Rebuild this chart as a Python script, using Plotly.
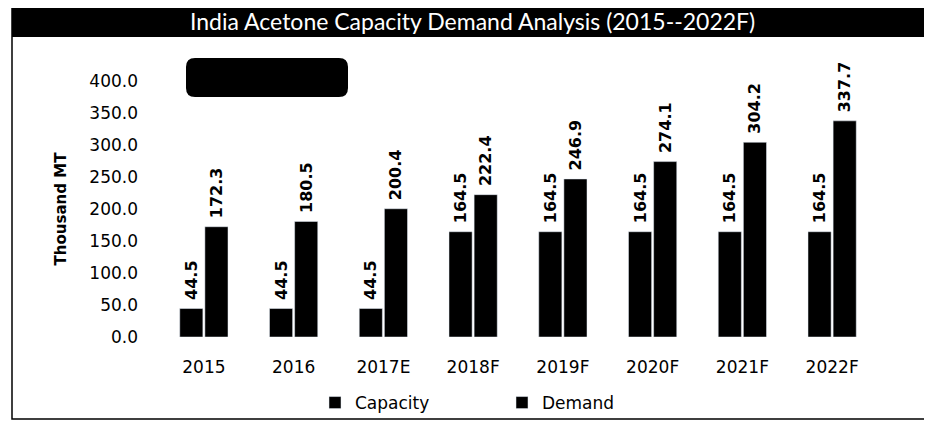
import plotly.graph_objects as go

categories = ["2015", "2016", "2017E", "2018F", "2019F", "2020F", "2021F", "2022F"]
capacity = [44.5, 44.5, 44.5, 164.5, 164.5, 164.5, 164.5, 164.5]
demand = [172.3, 180.5, 200.4, 222.4, 246.9, 274.1, 304.2, 337.7]
y_ticks = [0, 50, 100, 150, 200, 250, 300, 350, 400]

# page body adds an 8px offset; lay out in screen pixels and compensate
OFF = 8
W, H = 932 - OFF, 425 - OFF
PLOT_X0, PLOT_X1, PLOT_Y0, PLOT_Y1 = 159, 877, 81, 337  # screen px
L = PLOT_X0 - OFF
R = W - (PLOT_X1 - OFF)
T = PLOT_Y0 - OFF
B = H - (PLOT_Y1 - OFF)
PW, PH = PLOT_X1 - PLOT_X0, PLOT_Y1 - PLOT_Y0


def px(x):
    return (x - PLOT_X0) / PW


def py(y):
    return (PLOT_Y1 - y) / PH


def rounded_rect(x0, y0, x1, y1, r):
    pts = [
        f"M {px(x0 + r)} {py(y0)}",
        f"L {px(x1 - r)} {py(y0)}",
        f"Q {px(x1)} {py(y0)} {px(x1)} {py(y0 + r)}",
        f"L {px(x1)} {py(y1 - r)}",
        f"Q {px(x1)} {py(y1)} {px(x1 - r)} {py(y1)}",
        f"L {px(x0 + r)} {py(y1)}",
        f"Q {px(x0)} {py(y1)} {px(x0)} {py(y1 - r)}",
        f"L {px(x0)} {py(y0 + r)}",
        f"Q {px(x0)} {py(y0)} {px(x0 + r)} {py(y0)}",
        "Z",
    ]
    return " ".join(pts)


label_font = dict(family="DejaVu Sans", size=16, color="black", weight="bold")

fig = go.Figure()
for name, vals in (("Capacity", capacity), ("Demand", demand)):
    fig.add_trace(go.Bar(
        name=name, x=categories, y=vals,
        marker=dict(color="black"),
        texttemplate="\u00a0%{y:.1f}", textposition="outside", textangle=-90,
        textfont=label_font, cliponaxis=False, constraintext="none",
    ))

shapes = [
    dict(type="rect", xref="paper", yref="paper",
         x0=px(12), x1=px(930), y0=py(7), y1=py(419),
         line=dict(color="black", width=1.5), fillcolor="rgba(0,0,0,0)", layer="below"),
    dict(type="rect", xref="paper", yref="paper",
         x0=px(12), x1=px(932), y0=py(7), y1=py(37),
         line=dict(width=0), fillcolor="black"),
    dict(type="path", xref="paper", yref="paper",
         path=rounded_rect(186, 58, 348, 97, 9),
         line=dict(width=0), fillcolor="black"),
]

fig.update_layout(
    width=W, height=H,
    margin=dict(l=L, r=R, t=T, b=B, autoexpand=False),
    paper_bgcolor="white", plot_bgcolor="white",
    barmode="group", bargap=0.44, bargroupgap=0.08,
    font=dict(family="DejaVu Sans", color="black"),
    showlegend=True,
    legend=dict(orientation="h", x=px(315), xanchor="left", y=py(403), yanchor="middle",
                font=dict(size=17, family="DejaVu Sans"), entrywidth=142,
                itemwidth=30, bgcolor="rgba(0,0,0,0)"),
    shapes=shapes,
    annotations=[dict(
        text="India Acetone Capacity Demand Analysis (2015--2022F)",
        xref="paper", yref="paper", x=px(472), y=py(21),
        xanchor="center", yanchor="middle", showarrow=False,
        font=dict(family="Lato", size=23, color="white"),
    )],
)
fig.update_xaxes(
    showline=False, showgrid=False, ticks="",
    tickfont=dict(size=17, family="DejaVu Sans"), ticklabelstandoff=18,
)
fig.update_yaxes(
    range=[0, 400], tickvals=y_ticks, tickformat=".1f",
    showline=False, showgrid=False, zeroline=False, ticks="",
    tickfont=dict(size=17, family="DejaVu Sans"), ticklabelstandoff=20,
    title=dict(text="Thousand MT", font=dict(size=15, family="DejaVu Sans", weight="bold"), standoff=19),
)

fig.write_html("out.html")
